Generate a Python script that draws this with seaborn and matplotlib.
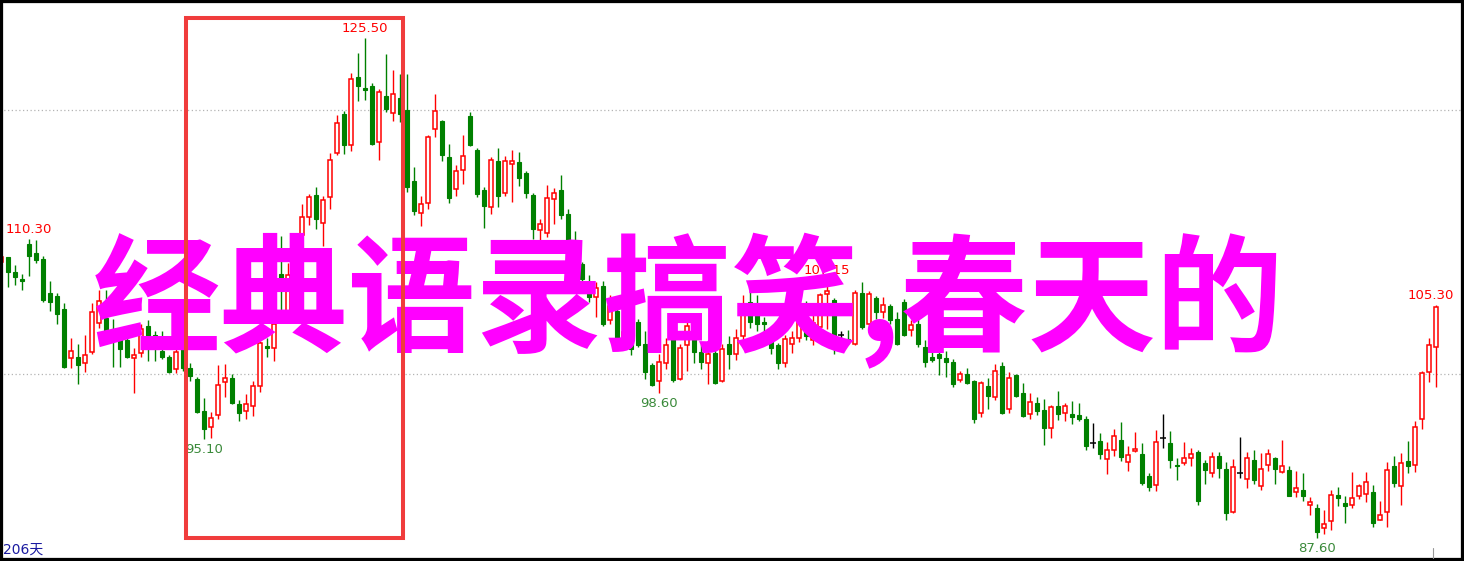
import numpy as np
import pandas as pd
import matplotlib
matplotlib.use("Agg")
import matplotlib.pyplot as plt
import matplotlib.transforms as mtransforms
from matplotlib.patches import Rectangle
import seaborn as sns

# daily OHLC, 206 sessions
opens = [
    108.50, 108.87, 107.78, 107.24, 109.88, 109.22, 108.76, 106.15, 105.93, 104.95,
    101.25, 101.31, 100.90, 101.71, 103.90, 104.30, 103.45, 102.90, 102.61, 101.23,
    101.61, 103.67, 102.99, 101.80, 101.35, 100.40, 102.10, 100.47, 99.67, 97.25,
    96.03, 96.90, 99.43, 99.70, 97.80, 97.25, 97.63, 99.16, 102.15, 102.01,
    107.65, 104.80, 106.80, 110.59, 111.95, 113.63, 111.46, 113.47, 116.80, 119.73,
    117.39, 122.56, 121.70, 121.86, 117.59, 121.10, 119.79, 120.92, 120.04, 114.66,
    112.26, 113.02, 118.58, 119.20, 116.48, 114.03, 115.47, 119.58, 117.00, 113.98,
    112.71, 116.17, 113.77, 115.92, 116.10, 115.27, 113.60, 110.92, 110.70, 113.27,
    113.98, 112.16, 108.20, 108.40, 106.97, 105.88, 106.69, 104.11, 104.79, 102.61,
    104.00, 103.97, 102.29, 100.71, 99.48, 100.84, 103.16, 99.67, 102.20, 103.16,
    101.74, 100.84, 101.66, 99.48, 102.29, 101.52, 102.88, 105.50, 104.52, 103.97,
    103.40, 102.20, 100.90, 102.34, 102.75, 103.43, 102.60, 103.62, 106.07, 105.61,
    103.02, 102.67, 102.29, 106.15, 103.81, 105.80, 104.71, 105.20, 104.24, 105.52,
    103.37, 103.84, 102.07, 101.33, 101.52, 101.25, 100.93, 99.56, 100.03, 99.48,
    97.12, 99.16, 98.26, 100.63, 97.36, 99.95, 98.59, 97.03, 97.85, 97.31,
    95.95, 97.58, 97.12, 96.98, 96.90, 96.63, 94.80, 94.99, 93.58, 94.26,
    95.07, 93.36, 94.18, 93.99, 92.33, 91.59, 95.21, 94.78, 93.17, 93.31,
    93.69, 94.10, 93.31, 92.54, 93.85, 92.87, 89.55, 92.54, 92.08, 93.55,
    91.56, 93.17, 93.71, 92.60, 92.76, 91.10, 91.27, 90.15, 89.88, 88.35,
    88.93, 90.86, 90.23, 90.10, 90.78, 90.91, 91.13, 89.01, 89.55, 93.03,
    91.54, 93.44, 93.14, 96.63, 100.16, 102.07,
]
highs = [
    109.00, 108.93, 108.33, 107.59, 110.30, 110.20, 108.98, 107.10, 106.20, 105.39,
    102.75, 102.29, 102.97, 105.39, 106.40, 106.40, 104.20, 103.40, 103.24, 101.98,
    103.80, 104.13, 103.30, 103.30, 101.45, 102.30, 102.50, 100.85, 99.84, 98.20,
    97.17, 100.71, 100.79, 100.03, 98.04, 98.53, 99.54, 102.50, 102.75, 104.79,
    110.50, 108.46, 110.60, 112.95, 113.67, 114.23, 113.55, 116.76, 119.66, 119.98,
    122.82, 124.33, 125.50, 122.10, 121.60, 124.28, 123.07, 122.77, 122.77, 115.70,
    113.52, 118.14, 121.25, 119.28, 117.46, 115.87, 118.14, 119.91, 117.16, 114.18,
    116.50, 117.14, 116.55, 117.00, 116.88, 115.44, 113.77, 111.78, 114.33, 114.15,
    115.11, 112.54, 110.90, 108.50, 107.51, 106.97, 107.05, 106.01, 105.33, 104.00,
    104.30, 104.24, 103.29, 100.84, 101.52, 102.75, 103.97, 102.34, 103.97, 103.56,
    102.34, 102.48, 102.34, 102.34, 102.94, 103.43, 105.99, 106.60, 105.99, 104.38,
    103.56, 102.39, 103.02, 103.29, 105.20, 105.60, 104.50, 106.15, 107.15, 105.82,
    103.29, 103.37, 106.37, 107.02, 106.29, 105.93, 105.88, 105.33, 104.73, 105.74,
    104.11, 104.52, 102.61, 101.90, 101.80, 101.80, 101.17, 100.30, 100.49, 99.62,
    99.48, 99.70, 100.76, 100.93, 100.22, 100.03, 99.35, 98.59, 98.26, 98.12,
    97.71, 98.72, 97.85, 97.99, 97.85, 96.84, 96.35, 95.54, 94.86, 95.86,
    96.41, 94.59, 95.62, 94.78, 92.54, 95.81, 96.98, 95.73, 93.71, 94.86,
    94.45, 94.31, 93.55, 94.12, 94.12, 93.36, 93.63, 95.27, 94.12, 94.31,
    94.04, 94.39, 93.77, 95.07, 93.09, 92.68, 92.54, 90.72, 90.18, 89.74,
    91.27, 91.46, 90.78, 92.60, 91.73, 92.60, 91.59, 90.45, 93.36, 93.85,
    94.04, 94.99, 96.44, 100.24, 102.75, 105.30,
]
lows = [
    108.30, 106.61, 106.78, 106.37, 107.43, 108.46, 105.52, 104.84, 103.84, 100.50,
    100.52, 99.29, 100.16, 101.52, 103.50, 102.80, 100.60, 100.60, 101.23, 98.62,
    101.30, 101.05, 101.05, 101.20, 100.10, 100.10, 100.30, 99.50, 97.09, 95.10,
    95.21, 96.63, 98.26, 97.77, 96.49, 96.63, 96.84, 98.67, 101.33, 101.03,
    104.90, 104.50, 106.50, 110.40, 111.30, 111.05, 109.74, 112.54, 116.60, 116.70,
    116.95, 120.74, 120.80, 117.35, 116.25, 119.91, 119.23, 119.15, 113.85, 112.08,
    111.27, 112.56, 118.02, 116.20, 113.02, 113.52, 114.43, 117.31, 113.47, 111.12,
    112.16, 112.67, 113.52, 113.09, 114.28, 113.39, 110.24, 109.94, 110.39, 111.38,
    111.78, 107.50, 106.50, 106.80, 105.47, 104.38, 103.70, 103.84, 102.39, 102.30,
    101.50, 102.07, 99.67, 99.13, 98.60, 100.44, 99.40, 99.56, 100.30, 100.84,
    100.38, 99.29, 99.29, 99.40, 100.38, 101.12, 102.61, 103.50, 103.29, 102.88,
    101.52, 100.38, 100.57, 101.66, 102.48, 102.61, 102.20, 103.43, 103.43, 101.52,
    102.75, 102.34, 102.20, 103.48, 103.29, 104.24, 104.30, 103.84, 102.20, 102.88,
    102.94, 102.07, 100.57, 100.98, 99.97, 99.84, 99.02, 99.40, 99.29, 96.35,
    96.76, 97.39, 98.04, 96.98, 97.12, 98.26, 96.76, 96.63, 96.95, 94.67,
    95.21, 96.57, 96.49, 96.22, 96.49, 94.26, 94.45, 93.58, 92.49, 93.85,
    93.41, 92.68, 94.12, 91.59, 91.18, 91.18, 94.45, 92.95, 92.00, 93.17,
    93.09, 90.10, 91.67, 92.27, 92.14, 88.95, 89.47, 92.14, 91.40, 91.73,
    91.24, 92.68, 91.73, 92.54, 90.78, 90.69, 90.42, 89.33, 87.60, 87.92,
    88.19, 90.04, 88.73, 89.88, 90.59, 90.31, 88.41, 88.95, 88.41, 91.51,
    90.15, 92.54, 92.60, 95.89, 99.43, 99.02,
]
closes = [
    108.90, 107.78, 107.35, 107.05, 108.95, 108.68, 105.65, 105.47, 104.57, 100.57,
    101.80, 100.71, 101.44, 104.71, 105.60, 103.10, 103.17, 101.90, 101.35, 101.48,
    103.42, 102.41, 102.74, 101.35, 100.17, 101.70, 100.47, 99.90, 97.17, 95.89,
    96.68, 99.21, 99.70, 97.85, 97.12, 97.80, 99.16, 102.39, 102.01, 103.84,
    107.10, 107.50, 110.30, 111.95, 113.41, 111.78, 113.22, 116.25, 119.03, 117.39,
    122.36, 121.86, 121.55, 117.46, 121.38, 120.14, 121.23, 119.71, 114.23, 112.41,
    112.89, 117.97, 119.94, 116.65, 113.39, 115.42, 116.53, 117.41, 113.67, 112.77,
    116.25, 113.52, 116.20, 116.17, 114.91, 113.73, 111.00, 111.38, 113.35, 113.73,
    112.11, 107.80, 106.90, 107.20, 105.88, 106.56, 103.84, 105.20, 102.48, 103.21,
    101.90, 102.20, 100.16, 99.21, 100.98, 102.20, 99.62, 101.99, 103.65, 101.71,
    100.93, 101.52, 99.35, 101.93, 101.52, 102.80, 105.28, 104.00, 103.84, 103.84,
    102.00, 100.84, 102.67, 102.80, 104.79, 102.88, 103.90, 105.99, 106.29, 102.88,
    103.02, 102.48, 106.15, 103.62, 106.07, 104.71, 105.28, 104.11, 102.34, 103.02,
    103.78, 102.29, 100.98, 101.06, 101.25, 100.98, 99.29, 100.03, 99.35, 96.63,
    99.35, 98.39, 100.30, 97.12, 99.70, 98.39, 96.84, 97.93, 97.25, 95.95,
    97.50, 96.98, 97.58, 96.76, 96.63, 94.59, 94.80, 93.96, 94.31, 95.35,
    93.77, 93.90, 94.39, 91.81, 91.51, 94.88, 95.21, 93.50, 93.03, 93.71,
    93.99, 90.45, 92.73, 93.77, 92.95, 89.50, 93.01, 92.54, 93.69, 92.00,
    92.87, 93.99, 92.82, 93.03, 90.83, 91.40, 90.83, 90.37, 88.05, 88.65,
    90.86, 90.64, 90.04, 90.64, 91.54, 91.86, 88.73, 89.33, 92.76, 91.78,
    93.31, 93.09, 96.03, 100.08, 102.20, 105.14,
]

grid_levels = [100, 120]
high_marks = [4, 52, 118, 205]
low_marks = [29, 94, 188]
box_first, box_last = 27, 57
day_label = "206天"
overlay_text = "经典语录搞笑,春天的"

COLORS = {
    "up"     : "#ff0000",
    "down"   : "#008000",
    "flat"   : "#000000",
    "grid"   : "#b4b4b4",
    "low_lbl": "#3a8a3a",
    "box"    : "#f03c3c",
    "overlay": "#ff00ff",
    "days"   : "#1a1aa0",
}

sns.set_theme(style="white")
plt.rcParams["font.family"] = ["DejaVu Sans", "Noto Sans CJK SC"]

df = pd.DataFrame({"open": opens, "high": highs, "low": lows, "close": closes})
df["idx"] = np.arange(len(df))
up = df[df["close"] > df["open"]]
down = df[df["close"] < df["open"]]
flat = df[df["close"] == df["open"]]

fig = plt.figure(figsize=(14.64, 5.61), dpi=100)
ax = fig.add_axes([0, 0, 1, 1])
ax.set_xlim(-0.14, 209.0)
ax.set_ylim(85.87, 128.37)

for lvl in grid_levels:
    ax.axhline(lvl, color=COLORS["grid"], linewidth=0.9, linestyle=(0, (1, 2)), zorder=0)

body_w = 0.62
# falling days: filled green
ax.vlines(down["idx"], down["low"], down["high"], color=COLORS["down"], linewidth=1.0, zorder=1)
ax.bar(down["idx"], down["close"] - down["open"], bottom=down["open"], width=body_w,
       color=COLORS["down"], edgecolor=COLORS["down"], linewidth=0.8, zorder=2)
# rising days: hollow red
ax.vlines(up["idx"], up["low"], up["high"], color=COLORS["up"], linewidth=1.0, zorder=1)
ax.bar(up["idx"], up["close"] - up["open"], bottom=up["open"], width=body_w,
       facecolor="white", edgecolor=COLORS["up"], linewidth=1.1, zorder=2)
# unchanged days: black cross
ax.vlines(flat["idx"], flat["low"], flat["high"], color=COLORS["flat"], linewidth=1.0, zorder=1)
ax.hlines(flat["close"], flat["idx"] - 0.4, flat["idx"] + 0.4, color=COLORS["flat"], linewidth=1.1, zorder=2)

n = len(df)
for i in high_marks:
    dx = -4 if i == n - 1 else 0
    ax.annotate(f"{highs[i]:.2f}", xy=(i, highs[i]), xytext=(dx, 2), textcoords="offset points",
                ha="center", va="bottom", fontsize=9.5, color=COLORS["up"], zorder=5)
for i in low_marks:
    ax.annotate(f"{lows[i]:.2f}", xy=(i, lows[i]), xytext=(0, -3), textcoords="offset points",
                ha="center", va="top", fontsize=9.5, color=COLORS["low_lbl"], zorder=5)

ax.text(0.002, 0.008, day_label, transform=ax.transAxes, ha="left", va="bottom",
        fontsize=10, color=COLORS["days"], zorder=5)

# big watermark caption sits above candles and labels
ax.text(0.4705, 0.463, overlay_text, transform=ax.transAxes, ha="center", va="center",
        fontsize=92, color=COLORS["overlay"], family=["Noto Sans CJK SC"], fontweight="bold", zorder=10)

blend = mtransforms.blended_transform_factory(ax.transData, ax.transAxes)
ax.add_patch(Rectangle((box_first - 0.5, 0.041), box_last - box_first + 1, 0.927, transform=blend,
                       fill=False, edgecolor=COLORS["box"], linewidth=2.9, zorder=11))

ax.axvline(n - 1.4, ymin=0.006, ymax=0.024, color="#999999", linewidth=0.8, zorder=3)

ax.set_xticks([])
ax.set_yticks([])
for side in ["left", "right", "top", "bottom"]:
    ax.spines[side].set_visible(True)
    ax.spines[side].set_color("black")
    ax.spines[side].set_linewidth(4.5)

fig.savefig("out.png", dpi=100, facecolor="white")
plt.close(fig)
